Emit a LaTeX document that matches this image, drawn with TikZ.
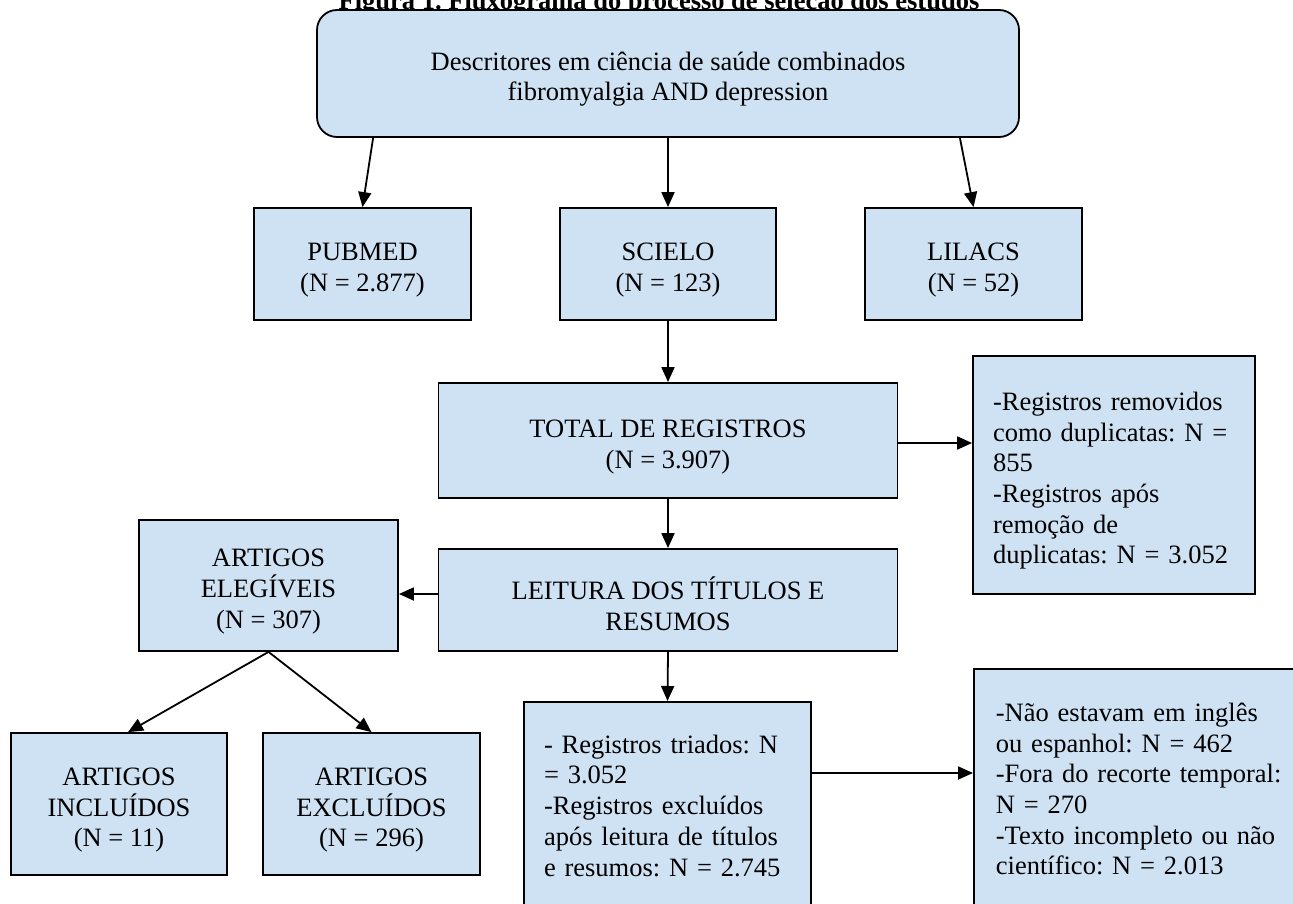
\documentclass[tikz,border=0pt]{standalone}
\usepackage{fontspec}
\setmainfont{Liberation Serif}
\usetikzlibrary{arrows.meta,calc}
\definecolor{boxblue}{RGB}{207,226,243}
\newcommand{\lowstrut}{\rule{0pt}{30pt}}
\begin{document}
\frenchspacing
\begin{tikzpicture}[x=1pt,y=-1pt,
  fbox/.style={draw=black,line width=1.8pt,fill=boxblue,rectangle,inner sep=0pt,align=center,font=\fontsize{26.5}{30.7}\selectfont\frenchspacing},
  lbox/.style={fbox,align=left,inner xsep=20pt},
  arr/.style={line width=1.8pt,-{Triangle[length=15pt,width=13pt]}}]
\useasboundingbox (0,0) rectangle (1293,904);
\clip (0,0) rectangle (1293,904);
\node[font=\bfseries\fontsize{26.5}{30}\selectfont,anchor=base,inner sep=0pt] (title) at (659,9.5) {Figura 1. Fluxograma do processo de seleção dos estudos};
\node[fbox,rounded corners=20pt,minimum width=702pt,minimum height=127pt] (top) at (668,73.5) {\lowstrut Descritores em ciência de saúde combinados\\fibromyalgia AND depression};
\node[fbox,minimum width=217pt,minimum height=112pt] (pub) at (362.5,264) {\lowstrut PUBMED\\(N = 2.877)};
\node[fbox,minimum width=216pt,minimum height=112pt] (sci) at (668,264) {\lowstrut SCIELO\\(N = 123)};
\node[fbox,minimum width=217pt,minimum height=112pt] (lil) at (973.5,264) {\lowstrut LILACS\\(N = 52)};
\node[fbox,minimum width=459pt,minimum height=115pt] (total) at (668,440.5) {\lowstrut TOTAL DE REGISTROS\\(N = 3.907)};
\node[lbox,text width=242pt,minimum height=238pt] (dup) at (1114,475) {\lowstrut -Registros removidos\\como duplicatas: N =\\855\\-Registros após\\remoção de\\duplicatas: N = 3.052};
\node[fbox,minimum width=459pt,minimum height=102pt] (leit) at (668,600) {\lowstrut LEITURA DOS TÍTULOS E\\RESUMOS};
\node[fbox,minimum width=259pt,minimum height=131pt] (eleg) at (268.5,585.5) {\lowstrut ARTIGOS\\ELEGÍVEIS\\(N = 307)};
\node[fbox,minimum width=216pt,minimum height=142pt] (incl) at (119,804) {\lowstrut ARTIGOS\\INCLUÍDOS\\(N = 11)};
\node[fbox,minimum width=217pt,minimum height=142pt] (excl) at (371.5,804) {\lowstrut ARTIGOS\\EXCLUÍDOS\\(N = 296)};
\node[lbox,text width=247pt,inner ysep=33pt,anchor=north] (trib) at (667.5,701) {- Registros triados: N\\= 3.052\\-Registros excluídos\\após leitura de títulos\\e resumos: N = 2.745};
\node[lbox,inner xsep=22pt,text width=300pt,inner ysep=34pt,anchor=north west] (excl2) at (973,668) {-Não estavam em inglês\\ou espanhol: N = 462\\-Fora do recorte temporal:\\N = 270\\-Texto incompleto ou não\\científico: N = 2.013};
\draw[arr] ($(top.south west)+(57,0)$) -- (pub.north);
\draw[arr] (top.south) -- (sci.north);
\draw[arr] ($(top.south east)+(-60,0)$) -- (lil.north);
\draw[arr] (sci.south) -- (total.north);
\coordinate (ra) at ($(total.east)+(0,2.5)$);
\draw[arr] (ra) -- (ra -| dup.west);
\draw[arr] (total.south) -- (leit.north);
\coordinate (la) at ($(leit.west)+(0,-6)$);
\draw[arr] (la) -- (la -| eleg.east);
\draw[arr] (eleg.south) -- ($(incl.north)+(9,0)$);
\draw[arr] (eleg.south) -- (excl.north);
\draw[arr] (leit.south) -- (trib.north);
\coordinate (ta) at ($(trib.north east)+(0,72)$);
\draw[arr] (ta) -- (ta -| excl2.west);
\end{tikzpicture}
\end{document}
